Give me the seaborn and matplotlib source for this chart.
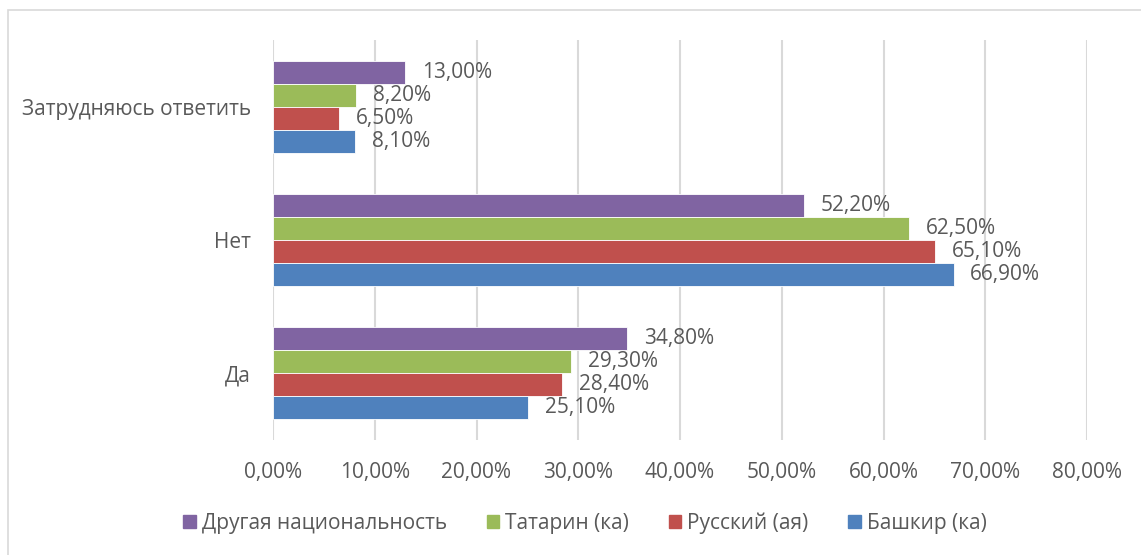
import pandas as pd
import matplotlib.pyplot as plt
import matplotlib.patches as mpatches
import seaborn as sns

answers = ['Затрудняюсь ответить', 'Нет', 'Да']
groups = ['Другая национальность', 'Татарин (ка)', 'Русский (ая)', 'Башкир (ка)']
other = [13.0, 52.2, 34.8]
tatar = [8.2, 62.5, 29.3]
russian = [6.5, 65.1, 28.4]
bashkir = [8.1, 66.9, 25.1]
xticks = [0, 10, 20, 30, 40, 50, 60, 70, 80]

colors = ['#8064A2', '#9BBB59', '#C0504D', '#4F81BD']
text_color = '#595959'
fs = 15


def make_frame():
    rows = []
    for g, vals in zip(groups, [other, tatar, russian, bashkir]):
        for a, v in zip(answers, vals):
            rows.append({'answer': a, 'group': g, 'value': v})
    return pd.DataFrame(rows)


def fmt(v):
    return '{:.2f}%'.format(v).replace('.', ',')


def plot_bars(df):
    sns.set_style('white')
    plt.rcParams['font.family'] = ['Open Sans', 'DejaVu Sans']
    fig = plt.figure(figsize=(11.41, 5.55), dpi=100)
    ax = fig.add_axes([273 / 1141, 1 - 440 / 555, (1087 - 273) / 1141, 400 / 555])

    sns.barplot(data=df, y='answer', x='value', hue='group', order=answers,
                hue_order=groups, palette=colors, saturation=1, orient='h',
                width=0.69, edgecolor='white', linewidth=0.6, legend=False, ax=ax)

    for cont in ax.containers:
        labels = [fmt(b.get_width()) for b in cont]
        ax.bar_label(cont, labels=labels, padding=12, fontsize=fs,
                     color=text_color)

    ax.set_xlim(0, 80)
    ax.set_ylim(2.5, -0.5)
    ax.set_xticks(xticks)
    ax.set_xticklabels([fmt(t) for t in xticks])
    ax.tick_params(axis='x', length=0, pad=16, labelsize=fs, labelcolor=text_color)
    ax.tick_params(axis='y', length=0, pad=16, labelsize=fs, labelcolor=text_color)
    ax.xaxis.grid(True, color='#D9D9D9', linewidth=1.5)
    ax.set_axisbelow(True)
    for s in ax.spines.values():
        s.set_visible(False)
    ax.set_xlabel('')
    ax.set_ylabel('')

    handles = [mpatches.Patch(color=c, label=g) for c, g in zip(colors, groups)]
    fig.legend(handles=handles, loc='center', bbox_to_anchor=(585 / 1141, 1 - 523 / 555),
               ncol=4, frameon=False, fontsize=fs, labelcolor=text_color,
               handlelength=0.6, handleheight=0.6, handletextpad=0.3,
               columnspacing=1.9)

    border = mpatches.Rectangle((8 / 1141, -0.01), 1.0, 1 - 10 / 555 + 0.01,
                                transform=fig.transFigure, fill=False,
                                edgecolor='#D9D9D9', linewidth=1.2)
    fig.patches.append(border)

    plt.savefig('out.png', dpi=100)


if __name__ == '__main__':
    df = make_frame()
    plot_bars(df)
